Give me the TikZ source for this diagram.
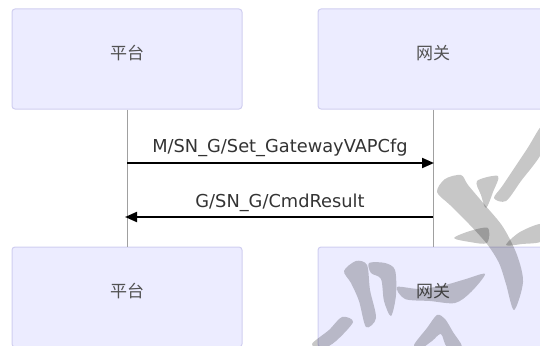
\documentclass[tikz,border=0pt]{standalone}
\usepackage{fontspec}
\setmainfont{DejaVu Sans}
\newfontfamily\cjk{Noto Sans CJK SC}
\usetikzlibrary{arrows.meta}
\definecolor{actorfill}{HTML}{ECECFF}
\definecolor{actorline}{HTML}{D0CEF0}
\definecolor{lifeline}{HTML}{A0A0A0}
\definecolor{txt}{HTML}{333333}
\begin{document}
\begin{tikzpicture}[x=1pt,y=-1pt,
  actor/.style={draw=actorline, fill=actorfill, rounded corners=3pt, line width=1pt,
    minimum width=230pt, minimum height=100pt, inner sep=0pt},
  actortext/.style={font=\cjk\fontsize{17}{17}\selectfont, text=txt!85, inner sep=0pt},
  life/.style={draw=lifeline, line width=1pt},
  msg/.style={draw=black, line width=2pt, -{Triangle[length=12pt,width=10pt]}},
  msgtext/.style={font=\fontsize{17.8}{18}\selectfont, text=txt, inner sep=0pt, anchor=base},
  wm/.style={fill=black, fill opacity=0.22, draw=none}]
\useasboundingbox (0,0) rectangle (540,345);
\clip (0,0) rectangle (540,345);
% actors
\node[actor] (tl) at (127,59) {};
\node[actor] (tr) at (433,59) {};
\node[actor] (bl) at (127,297) {};
\node[actor] (br) at (433,297) {};
\node[actortext] (tlt) at (127,53) {平台};
\node[actortext] (trt) at (433,53) {网关};
\node[actortext] (blt) at (127,291) {平台};
\node[actortext] (brt) at (433,291) {网关};
% lifelines
\draw[life] (tl.south) -- (bl.north);
\draw[life] (tr.south) -- (br.north);
% messages
\coordinate (m1a) at (127,163);
\coordinate (m1b) at (434,163);
\coordinate (m2a) at (433,217);
\coordinate (m2b) at (125,217);
\draw[msg] (m1a) -- (m1b);
\draw[msg] (m2a) -- (m2b);
\node[msgtext] (l1) at (280,152) {M/SN\_G/Set\_GatewayVAPCfg};
\node[msgtext] (l2) at (280,207) {G/SN\_G/CmdResult};
% watermark (right character)
\fill[wm] plot[smooth cycle, tension=0.5] coordinates {(437,192) (445,179) (461,175) (468,185) (484,204) (503,227) (517,255) (523,282) (514,310) (506,284) (499,263) (487,244) (469,224) (450,205)};
\fill[wm] plot[smooth cycle, tension=0.5] coordinates {(477,181) (498,176) (493,192) (486,208) (481,195)};
\fill[wm] plot[smooth cycle, tension=0.5] coordinates {(494,198) (503,185) (527,149) (542,126) (542,152) (521,181) (506,201)};
\fill[wm] plot[smooth cycle, tension=0.5] coordinates {(454,238) (470,231) (488,228) (487,243) (470,242)};
\fill[wm] plot[smooth cycle, tension=0.5] coordinates {(506,245) (520,232) (542,224) (542,241) (522,244)};
% watermark (left character)
\fill[wm] plot[smooth cycle, tension=0.5] coordinates {(344,271) (356,261) (367,265) (370,290) (376,318) (366,327) (359,301) (351,283)};
\fill[wm] plot[smooth cycle, tension=0.5] coordinates {(369,263) (385,263) (395,270) (396,295) (391,316) (384,301) (381,279) (371,273)};
\fill[wm] plot[smooth cycle, tension=0.5] coordinates {(397,287) (420,289) (445,285) (466,279) (485,274) (471,292) (455,303) (430,301) (405,299)};
\fill[wm] plot[smooth cycle, tension=0.5] coordinates {(342,317) (353,322) (336,341) (322,349) (312,344) (329,330)};
\fill[wm] plot[smooth cycle, tension=0.5] coordinates {(437,315) (445,319) (453,332) (462,347) (447,347) (441,334) (432,341) (420,349) (414,345) (427,328)};
\end{tikzpicture}
\end{document}
